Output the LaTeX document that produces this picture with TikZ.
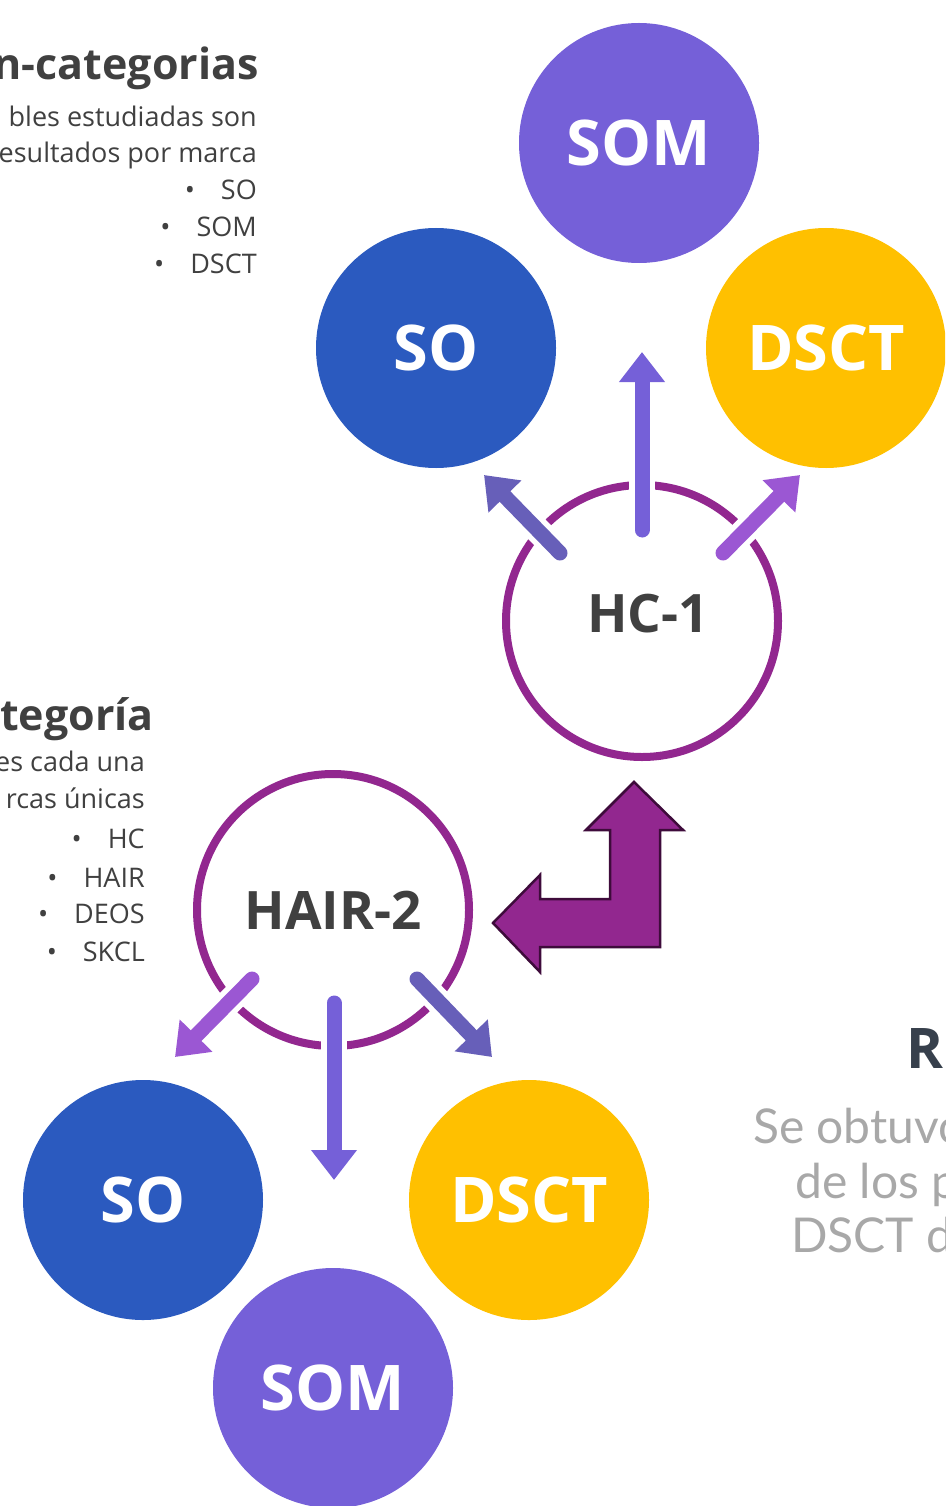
\documentclass[tikz,border=0pt]{standalone}
\usepackage{fontspec}
\setmainfont{Open Sans}
\newfontfamily\geofont{Lato}
\usetikzlibrary{arrows.meta,calc}

\definecolor{somc}{HTML}{7560D8}
\definecolor{soc}{HTML}{2B5ABF}
\definecolor{dsctc}{HTML}{FFC000}
\definecolor{ringc}{HTML}{92278F}
\definecolor{ringdark}{HTML}{3E0B3B}
\definecolor{slatec}{HTML}{675FB9}
\definecolor{orchidc}{HTML}{9B57D3}
\definecolor{darkt}{HTML}{404040}
\definecolor{headt}{HTML}{37404C}
\definecolor{fadet}{HTML}{A8A8A8}

\begin{document}
\begin{tikzpicture}[x=1pt,y=-1pt]
\tikzstyle{bubble} = [circle, minimum size=240pt, inner sep=0pt, text=white,
font=\fontsize{63}{63}\selectfont\bfseries]
\tikzstyle{ring} = [circle, draw=ringc, line width=8pt, fill=white,
minimum size=272pt, inner sep=0pt, text=darkt, font=\fontsize{53}{53}\selectfont\bfseries]
\tikzstyle{halo} = [draw=white, line width=26pt, line cap=round, shorten >=24pt]
\tikzstyle{line} = [draw, line width=15pt, line cap=round, -{Triangle[length=30pt,width=44pt]}]
\tikzstyle{title} = [anchor=base east, inner sep=0pt, text=darkt, font=\fontsize{43}{43}\selectfont\bfseries]
\tikzstyle{body} = [anchor=base east, inner sep=0pt, text=darkt, font=\fontsize{27}{27}\selectfont]
\tikzstyle{faded} = [anchor=base west, inner sep=0pt, text=fadet, font=\geofont\fontsize{48}{48}\selectfont]

\useasboundingbox (0,0) rectangle (945,1506);
\clip (0,0) rectangle (945,1506);

% text block 1
\node[title] (head1) at (259,80) {n-categorias};
\node[body] (b1l1) at (257,127) {bles estudiadas son};
\node[body] (b1l2) at (257,163) {esultados por marca};
\node[body] (b1l3) at (257,200) {\textbullet\hspace{26pt}SO};
\node[body] (b1l4) at (257,237) {\textbullet\hspace{26pt}SOM};
\node[body] (b1l5) at (257,273) {\textbullet\hspace{26pt}DSCT};

% text block 2
\node[title] (head2) at (154,730) {tegoría};
\node[body] (b2l1) at (145,771) {es cada una};
\node[body] (b2l2) at (145,808) {rcas únicas};
\node[body] (b2l3) at (145,848) {\textbullet\hspace{26pt}HC};
\node[body] (b2l4) at (145,887) {\textbullet\hspace{26pt}HAIR};
\node[body] (b2l5) at (145,923) {\textbullet\hspace{26pt}DEOS};
\node[body] (b2l6) at (145,961) {\textbullet\hspace{26pt}SKCL};

% text block 3
\node[anchor=base west, inner sep=0pt, text=headt, font=\fontsize{56}{56}\selectfont\bfseries] (head3) at (906,1068) {R};
\node[faded] (b3l1) at (753,1143) {Se obtuvo};
\node[faded] (b3l2) at (795,1198) {de los p};
\node[faded] (b3l3) at (791,1252) {DSCT d};

% upper group
\node[ring] (hc) at (642,621) {\hspace{12pt}\raisebox{16pt}{HC-1}};
\node[bubble, fill=somc] (som1) at (639,143) {SOM};
\node[bubble, fill=soc] (so1) at (436,348) {SO};
\node[bubble, fill=dsctc] (dsct1) at (826,348) {DSCT};

% lower group
\node[ring] (hair) at (333,910) {HAIR-2};
\node[bubble, fill=soc] (so2) at (143,1200) {SO};
\node[bubble, fill=dsctc] (dsct2) at (529,1200) {DSCT};
\node[bubble, fill=somc] (som2) at (333,1388) {SOM};

% arrow ends
\coordinate (hc-up) at ($(hc)+(0,-91)$);
\coordinate (hc-left) at ($(hc)+(-82,-68)$);
\coordinate (hc-right) at ($(hc)+(81,-68)$);
\coordinate (som1-in) at ($(hc)+(0,-269)$);
\coordinate (so1-in) at ($(hc)+(-158,-146)$);
\coordinate (dsct1-in) at ($(hc)+(158,-146)$);
\coordinate (hair-down) at ($(hair)+(1,93)$);
\coordinate (hair-left) at ($(hair)+(-81,69)$);
\coordinate (hair-right) at ($(hair)+(84,69)$);
\coordinate (som2-in) at ($(hair)+(1,270)$);
\coordinate (so2-in) at ($(hair)+(-158,147)$);
\coordinate (dsct2-in) at ($(hair)+(159,147)$);

\path[halo] (hc-up) -- (som1-in);
\path[line, somc] (hc-up) -- (som1-in);
\path[halo] (hc-left) -- (so1-in);
\path[line, slatec] (hc-left) -- (so1-in);
\path[halo] (hc-right) -- (dsct1-in);
\path[line, orchidc] (hc-right) -- (dsct1-in);

\path[halo] (hair-down) -- (som2-in);
\path[line, somc] (hair-down) -- (som2-in);
\path[halo] (hair-left) -- (so2-in);
\path[line, orchidc] (hair-left) -- (so2-in);
\path[halo] (hair-right) -- (dsct2-in);
\path[line, slatec] (hair-right) -- (dsct2-in);

% bent arrow between the groups
\draw[fill=ringc, draw=ringdark, line width=2.5pt] (634,782) -- (683,830) -- (660,830)
 -- (660,947) -- (540,947) -- (540,972) -- (493,923) -- (540,875) -- (540,899)
 -- (610,899) -- (610,830) -- (586,830) -- cycle;
\end{tikzpicture}
\end{document}
